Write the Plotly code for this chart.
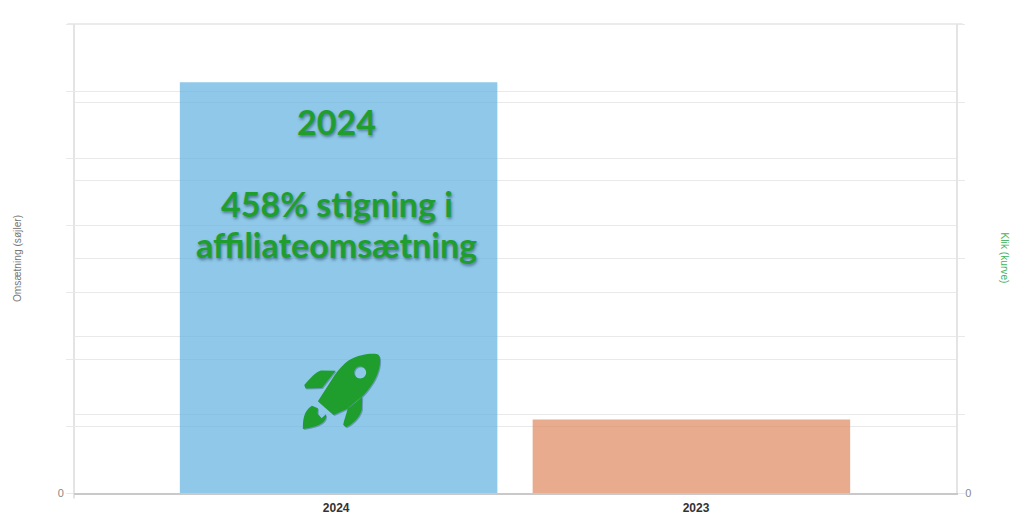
import plotly.graph_objects as go

categories = ["2024", "2023"]
revenue = [6130, 1098]
clicks = [None, None]
left_ticks = [0, 1000, 2000, 3000, 4000, 5000, 6000, 7000]
left_labels = ["0", "", "", "", "", "", "", ""]
right_ticks = [0, 1, 2, 3, 4, 5, 6]
right_labels = ["0", "", "", "", "", "", ""]
bar_colors = ["rgba(95,176,222,0.7)", "rgba(222,136,94,0.7)"]
GREEN = "#1f9e2d"
W, H = 1024, 526
L, R, T, B = 73.5, 956.5, 23.5, 493.5


def fx(x):
    return (x - L) / (R - L)


def fy(y):
    return (B - y) / (B - T)


def rocket(dx=0.0, dy=0.0):
    def p(x, y):
        return fx(280 + x / 3 + dx), fy(340 + y / 3 + dy)

    def path(cmds):
        out = ""
        for c in cmds:
            if c == "Z":
                out += "Z "
            else:
                out += c[0] + " ".join("%.5f,%.5f" % p(c[i], c[i + 1]) for i in range(1, len(c), 2)) + " "
        return out

    body = [("M", 295, 45), ("C", 292, 40, 245, 38, 205, 62), ("C", 190, 72, 175, 90, 162, 108),
            ("L", 113, 185), ("L", 160, 226), ("L", 200, 208), ("C", 245, 180, 300, 120, 300, 62),
            ("C", 300, 55, 298, 50, 295, 45), "Z"]
    cx, cy, r = 240, 98, 18
    k = r * 0.55
    hole = [("M", cx + r, cy), ("C", cx + r, cy + k, cx + k, cy + r, cx, cy + r),
            ("C", cx - k, cy + r, cx - r, cy + k, cx - r, cy),
            ("C", cx - r, cy - k, cx - k, cy - r, cx, cy - r),
            ("C", cx + k, cy - r, cx + r, cy - k, cx + r, cy), "Z"]
    fin1 = [("M", 166, 93), ("L", 122, 92), ("C", 108, 95, 90, 115, 72, 136), ("L", 76, 146),
            ("L", 125, 145), "Z"]
    fin2 = [("M", 246, 170), ("L", 203, 206), ("C", 198, 225, 192, 240, 189, 255), ("L", 197, 263),
            ("C", 215, 255, 238, 235, 245, 210), "Z"]
    flame = [("M", 68, 268), ("C", 68, 245, 68, 215, 95, 198), ("L", 113, 206), ("L", 112, 222),
             ("L", 124, 236), ("L", 137, 224), ("C", 142, 245, 120, 262, 68, 268), "Z"]
    return path(body) + path(hole) + path(fin1) + path(fin2) + path(flame)


fig = go.Figure()
fig.add_trace(go.Bar(x=categories, y=revenue, marker=dict(color=bar_colors, line=dict(width=0)),
                     name="Omsætning", yaxis="y", showlegend=False))
fig.add_trace(go.Scatter(x=categories, y=clicks, mode="lines", line=dict(color=GREEN),
                         name="Klik", yaxis="y2", showlegend=False))

shapes = [
    dict(type="path", xref="paper", yref="paper", path=rocket(1, 1), fillrule="evenodd",
         fillcolor="rgba(30,70,110,0.35)", line=dict(width=0)),
    dict(type="path", xref="paper", yref="paper", path=rocket(), fillrule="evenodd",
         fillcolor=GREEN, line=dict(width=0)),
    dict(type="line", xref="paper", yref="paper", x0=0, x1=0, y0=1, y1=fy(499),
         line=dict(color="#e4e4e4", width=2), layer="below"),
    dict(type="line", xref="paper", yref="paper", x0=fx(67), x1=fx(963), y0=1, y1=1,
         line=dict(color="#e4e4e4", width=1.5), layer="below"),
]
shadow = "1px 2px 3px rgba(30,60,90,0.55)"
texts = [("2024", 121), ("458% stigning i", 203), ("affiliateomsætning", 244)]
annotations = [
    dict(text=t, xref="paper", x=fx(336.5), yref="paper", y=fy(yy), yanchor="middle", xanchor="center",
         showarrow=False, font=dict(family="Lato", size=34, color=GREEN, weight=700, shadow=shadow))
    for t, yy in texts
]
annotations.append(
    dict(text="Klik (kurve)", xref="paper", x=fx(1006), yref="paper", y=fy(258), textangle=90,
         showarrow=False, xanchor="center", yanchor="middle",
         font=dict(family="Liberation Sans", size=10.2, color="#3fb45c"))
)

fig.update_layout(
    width=W, height=H, paper_bgcolor="white", plot_bgcolor="white",
    margin=dict(l=L, r=W - R, t=T, b=H - B, pad=0, autoexpand=False),
    bargap=0.1, shapes=shapes, annotations=annotations, showlegend=False,
    xaxis=dict(type="category", categoryorder="array", categoryarray=categories, range=[-0.75, 1.75],
               tickmode="array", tickvals=[-0.007, 1.013], ticktext=categories,
               showgrid=False, showline=True, linecolor="#c9c9c9", linewidth=1.5,
               ticks="outside", ticklen=3, tickcolor="rgba(0,0,0,0)",
               tickfont=dict(family="Liberation Sans", size=12, color="#333333", weight=700),
               automargin=False),
    yaxis=dict(range=[0, 7000], tickmode="array", tickvals=left_ticks, ticktext=left_labels,
               showgrid=True, gridcolor="#e9e9e9", gridwidth=1, zeroline=False,
               showline=False, ticks="outside", ticklen=7, tickcolor="#e9e9e9",
               tickfont=dict(family="Liberation Sans", size=11, color="#888888"), automargin=False,
               title=dict(text="Omsætning (søjler)", standoff=34,
                          font=dict(family="Liberation Sans", size=10.2, color="#777777"))),
    yaxis2=dict(range=[0, 6], overlaying="y", side="right", tickmode="array", tickvals=right_ticks,
                ticktext=right_labels, showgrid=True, gridcolor="#e9e9e9", gridwidth=1, zeroline=False,
                showline=True, linecolor="#e4e4e4", linewidth=2, ticks="outside", ticklen=7,
                tickcolor="#e9e9e9", automargin=False, ticklabelstandoff=-2,
                tickfont=dict(family="Liberation Sans", size=11, color="#888888")),
)
fig.write_html("out.html", config=dict(displayModeBar=False),
               post_script="document.body.style.margin='0';document.documentElement.style.overflow='hidden';")
